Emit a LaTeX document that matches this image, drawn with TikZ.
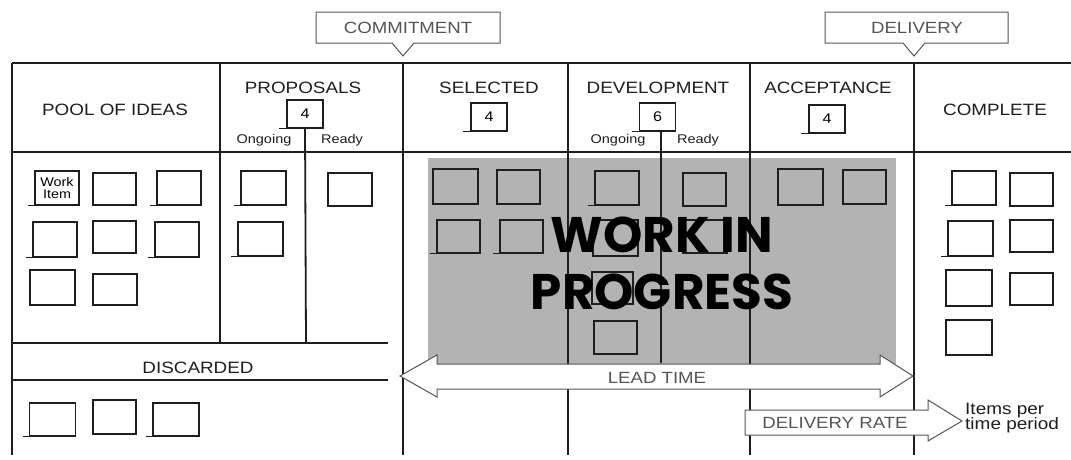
\documentclass[tikz,border=0pt]{standalone}
\usepackage{fontspec}
\setmainfont{Liberation Sans}
\newfontfamily\hand[FakeStretch=1.15]{Liberation Sans}
\newfontfamily\wipfont{Poppins}
\definecolor{ink}{HTML}{1E1E1E}
\definecolor{wipgray}{HTML}{B3B3B3}
\definecolor{soft}{HTML}{555555}
\tikzset{
  frame/.style={line width=1.8pt, draw=ink},
  hdr/.style={font=\hand\fontsize{16.4}{19}\selectfont, text=ink, inner sep=0},
  sub/.style={font=\hand\fontsize{12.6}{14}\selectfont, text=ink, inner sep=0},
  grey label/.style={font=\hand\fontsize{16.2}{19}\selectfont, text=soft, inner sep=0},
  card/.style={draw=ink, line width=1.5pt, inner sep=0, minimum width=44pt, minimum height=34pt},
  limit/.style={draw=ink, line width=1.6pt, inner sep=0, minimum width=36pt, minimum height=28pt, font=\hand\fontsize{14}{15}\selectfont},
  callout/.style={draw=soft, line width=1pt, fill=white},
  bigarrow/.style={draw=soft, line width=1pt, fill=white, line join=miter},
  tick/.style={draw=ink, line width=1.2pt}
}
\begin{document}
\begin{tikzpicture}[x=1pt,y=-1pt]
\useasboundingbox (0,0) rectangle (1071,459);
\fill[white] (0,0) rectangle (1071,459);

% WIP background
\fill[wipgray] (428,158) rectangle (896,364);

% frame lines
\draw[frame] (12,63) -- (1071,63);
\draw[frame] (12,152) -- (1071,152);
\draw[frame] (12,63) -- (12,455);
\draw[frame] (220,63) -- (220,343);
\draw[frame] (12,343) -- (388,343);
\draw[frame] (12,380) -- (388,380);
\draw[frame] (403,63) -- (403,455);
\draw[frame] (568,63) -- (568,455);
\draw[frame] (750,63) -- (750,455);
\draw[frame] (914,63) -- (914,455);

% callouts
\draw[callout] (316,12) -- (500,12) -- (500,43) -- (414,43) -- (403,56) -- (392,43) -- (316,43) -- cycle;
\node[grey label] (commit) at (408,28) {COMMITMENT};
\draw[callout] (825,12) -- (1008,12) -- (1008,43) -- (925,43) -- (914,56) -- (903,43) -- (825,43) -- cycle;
\node[grey label] (deliv) at (917,28) {DELIVERY};

% headers
\node[hdr] (pool) at (115,110) {POOL OF IDEAS};
\node[hdr] (prop) at (303,88) {PROPOSALS};
\node[limit] (lprop) at (305,114) {4};
\node[sub] (pon) at (264,140) {Ongoing};
\node[sub] (prd) at (342,140) {Ready};
\node[hdr] (sel) at (489,88) {SELECTED};
\node[limit] (lsel) at (489,117) {4};
\node[hdr] (dev) at (658,88) {DEVELOPMENT};
\node[limit] (ldev) at (657.5,117) {6};
\node[sub] (don) at (618,140) {Ongoing};
\node[sub] (drd) at (698,140) {Ready};
\node[hdr] (acc) at (828,88) {ACCEPTANCE};
\node[limit] (lacc) at (827,119) {4};
\node[hdr] (comp) at (995,110) {COMPLETE};
\node[hdr] (disc) at (198,368) {DISCARDED};

% limit ticks and split lines
\draw[tick] ([xshift=-7pt]lprop.south west) -- (lprop.south west);
\draw[tick] ([xshift=-7pt]lsel.south west) -- (lsel.south west);
\draw[tick] ([xshift=-7pt]ldev.south west) -- (ldev.south west);
\draw[tick] ([xshift=-7pt]lacc.south west) -- (lacc.south west);
\coordinate (psplit) at (306,342);
\coordinate (dsplit) at (661,363);
\draw[frame] (lprop.south) -- (psplit);
\draw[frame] (ldev.south -| dsplit) -- (dsplit);

% pool of ideas cards
\node[card, align=center, font=\hand\fontsize{12.5}{12}\selectfont] (p1) at (57,188) {Work\\Item};
\node[card, minimum width=43pt, minimum height=32pt] (p2) at (114.5,189) {};
\node[card] (p3) at (179,188) {};
\node[card, minimum height=35pt] (p4) at (55,239.5) {};
\node[card, minimum width=43pt, minimum height=32pt] (p5) at (114.5,237) {};
\node[card, minimum height=35pt] (p6) at (177,239.5) {};
\node[card, minimum width=45pt, minimum height=35pt] (p7) at (52.5,287.5) {};
\node[card, minimum height=31pt] (p8) at (115,289.5) {};
% proposals cards
\node[card, minimum width=45pt] (q1) at (263.5,188) {};
\node[card, minimum width=45pt] (q2) at (260.5,239) {};
\node[card, minimum height=33pt] (q3) at (350,189.5) {};
% discarded cards
\node[card, minimum width=46pt, minimum height=33pt] (d1) at (52.5,419.5) {};
\node[card, minimum width=43pt] (d2) at (114.5,417) {};
\node[card, minimum width=46pt, minimum height=33pt] (d3) at (176,419.5) {};
% WIP cards
\node[card, minimum width=45pt, minimum height=35pt] (w1) at (455.5,186.5) {};
\node[card, minimum width=43pt] (w2) at (518.5,187) {};
\node[card] (w3) at (617,188) {};
\node[card, minimum width=43pt, minimum height=33pt] (w4) at (704.5,189.5) {};
\node[card, minimum width=45pt, minimum height=36pt] (w5) at (800.5,187) {};
\node[card, minimum width=43pt] (w6) at (864.5,187) {};
\node[card, minimum width=43pt, minimum height=33pt] (w7) at (458.5,236.5) {};
\node[card, minimum width=43pt, minimum height=33pt] (w8) at (521.5,236.5) {};
\node[card, minimum width=45pt, minimum height=36pt] (w9) at (615.5,238) {};
\node[card, minimum height=33pt] (w10) at (705,236.5) {};
\node[card, minimum width=41pt, minimum height=32pt] (w11) at (612.5,288) {};
\node[card, minimum width=43pt, minimum height=33pt] (w12) at (615.5,337.5) {};
% complete cards
\node[card] (c1) at (974,188) {};
\node[card, minimum width=43pt, minimum height=33pt] (c2) at (1031.5,189.5) {};
\node[card, minimum width=45pt, minimum height=35pt] (c3) at (970.5,238.5) {};
\node[card, minimum width=43pt, minimum height=32pt] (c4) at (1031.5,236) {};
\node[card, minimum width=46pt, minimum height=36pt] (c5) at (969,288) {};
\node[card, minimum width=43pt, minimum height=32pt] (c6) at (1031.5,289) {};
\node[card, minimum width=46pt, minimum height=35pt] (c7) at (969,337.5) {};

% sketchy baseline ticks
\foreach \n in {p1,p3,p4,p6,q1,q2,d1,d3,w3,w7,w8,c1,c3}
  \draw[tick] ([xshift=-6pt]\n.south west) -- (\n.south west);

% lead time arrow
\draw[bigarrow] (400,376) -- (437,355) -- (437,364) -- (880,364) -- (880,355) -- (913,376)
  -- (880,397) -- (880,389) -- (437,389) -- (437,397) -- cycle;
\node[grey label] (lead) at (657,378) {LEAD TIME};

% delivery rate arrow
\draw[bigarrow] (745,410) -- (928,410) -- (928,400) -- (962,421) -- (928,441) -- (928,435) -- (745,435) -- cycle;
\node[grey label] (rate) at (835,423) {DELIVERY RATE};
\node[font=\hand\fontsize{16.5}{15.5}\selectfont, align=left, anchor=west, inner sep=0, text=ink] (items) at (965,418) {Items per\\time period};

% WIP text
\node[font=\wipfont\bfseries\fontsize{50}{57}\selectfont, align=center, text=black, inner sep=0] (wip) at (662,263) {WORK IN\\PROGRESS};
\end{tikzpicture}
\end{document}
